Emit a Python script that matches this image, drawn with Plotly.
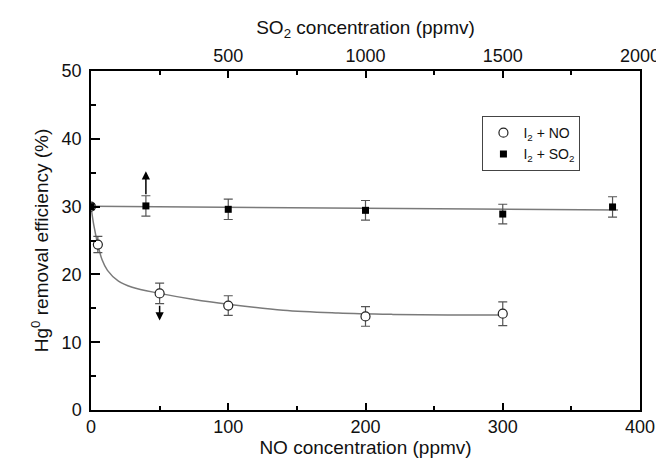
import plotly.graph_objects as go

# I2 + NO (bottom axis, NO ppmv)
no_x = [0, 5, 50, 100, 200, 300]
no_y = [30.0, 24.4, 17.2, 15.4, 13.8, 14.2]
no_err = [0, 1.2, 1.5, 1.45, 1.45, 1.75]

# I2 + SO2 (top axis, SO2 ppmv)
so2_x = [0, 200, 500, 1000, 1500, 1900]
so2_y = [30.0, 30.1, 29.6, 29.45, 28.9, 29.95]
so2_err = [0, 1.5, 1.5, 1.45, 1.45, 1.5]

# fitted curves
no_fit_x = [0, 2, 5, 8, 12, 20, 30, 50, 75, 100, 140, 180, 220, 260, 300]
no_fit_y = [30.0, 27.3, 24.4, 22.2, 20.6, 19.0, 18.1, 17.2, 16.3, 15.6, 14.7, 14.3, 14.1, 14.0, 14.0]
so2_fit_x = [0, 1920]
so2_fit_y = [30.05, 29.5]

# arrows: which axis a series belongs to
arrow_up = dict(x=40, y_from=31.6, y_to=35.2)
arrow_down = dict(x=50, y_from=15.6, y_to=13.2)

FONT = "Liberation Sans, Arial, sans-serif"
LINE = "#7a7a7a"
ERR = "#555555"

fig = go.Figure()

fig.add_trace(go.Scatter(x=no_fit_x, y=no_fit_y, mode="lines", line=dict(color=LINE, width=1.5, shape="spline"),
                         showlegend=False, hoverinfo="skip"))
fig.add_trace(go.Scatter(x=so2_fit_x, y=so2_fit_y, mode="lines", xaxis="x2", line=dict(color=LINE, width=1.5),
                         showlegend=False, hoverinfo="skip"))

fig.add_trace(go.Scatter(x=no_x, y=no_y, mode="markers", name="I<sub>2</sub> + NO",
                         marker=dict(symbol="circle", size=9, color="white", line=dict(color="#222", width=1.2)),
                         error_y=dict(type="data", array=no_err, color=ERR, thickness=1.2, width=4.5)))
fig.add_trace(go.Scatter(x=so2_x, y=so2_y, mode="markers", name="I<sub>2</sub> + SO<sub>2</sub>", xaxis="x2",
                         marker=dict(symbol="square", size=7, color="black"),
                         error_y=dict(type="data", array=so2_err, color=ERR, thickness=1.2, width=4.5)))

for a in (arrow_up, arrow_down):
    fig.add_annotation(x=a["x"], y=a["y_to"], ax=a["x"], ay=a["y_from"], xref="x", yref="y",
                       axref="x", ayref="y", text="", showarrow=True, arrowhead=2, arrowsize=1.1,
                       arrowwidth=1.5, arrowcolor="black")

fig.update_layout(
    width=664, height=459,
    margin=dict(l=83, r=22, t=63, b=56),
    paper_bgcolor="white", plot_bgcolor="white",
    font=dict(family=FONT, size=18, color="#111"),
    xaxis=dict(range=[0, 400], dtick=100, showline=True, linecolor="black", linewidth=1.5,
               ticks="inside", ticklen=7, tickcolor="black", tickwidth=1.5, showgrid=False, zeroline=False,
               minor=dict(dtick=50, ticks="inside", ticklen=4, tickcolor="black"),
               title=dict(text="NO concentration (ppmv)", standoff=4, font=dict(size=19))),
    xaxis2=dict(range=[0, 2000], overlaying="x", side="top", tickvals=[500, 1000, 1500, 2000],
                showline=True, linecolor="black", linewidth=1.5, ticks="inside", ticklen=7,
                tickcolor="black", tickwidth=1.5, showgrid=False, zeroline=False,
                minor=dict(tickvals=[250, 750, 1250, 1750], ticks="inside", ticklen=4, tickcolor="black"),
                title=dict(text="SO<sub>2</sub> concentration (ppmv)", standoff=6, font=dict(size=19))),
    yaxis=dict(range=[0, 50], dtick=10, showline=True, linecolor="black", linewidth=1.5, mirror=True,
               ticks="inside", ticklen=9, tickcolor="black", tickwidth=1.5, showgrid=False, zeroline=False,
               minor=dict(dtick=5, ticks="inside", ticklen=5, tickcolor="black"),
               ticklabelstandoff=4,
               title=dict(text="Hg<sup>0</sup> removal efficiency (%)", standoff=8, font=dict(size=19))),
    legend=dict(x=0.713, y=0.867, xanchor="left", yanchor="top", bordercolor="#444", borderwidth=1,
                bgcolor="white", font=dict(size=14), tracegroupgap=2),
)

fig.write_html("out.html")
